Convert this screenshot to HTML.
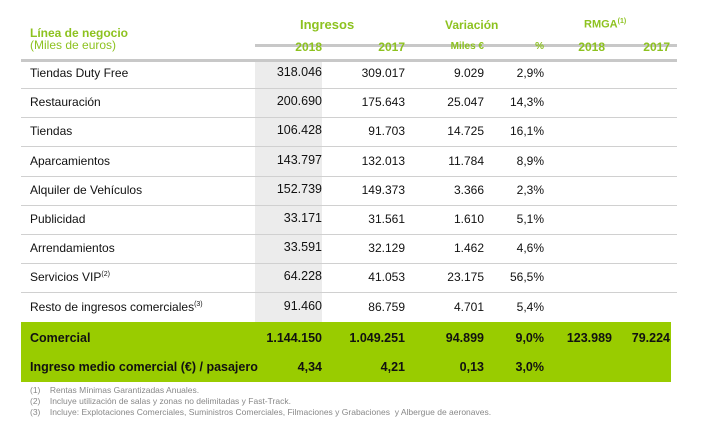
<!DOCTYPE html>
<html><head><meta charset="utf-8"><style>
body{margin:0;width:705px;height:424px;background:#fff;font-family:"Liberation Sans",sans-serif;position:relative;overflow:hidden}
.a{position:absolute;white-space:nowrap}
.g{color:#8dc21f;font-weight:bold}
.r{text-align:right}
.t{font-size:12px;color:#111}
.n{font-size:12.5px;color:#111}
.b{font-weight:bold;font-size:12.5px;color:#111}
.f{font-size:8.5px;color:#888}
</style></head><body>
<div class="a" style="left:255px;top:62px;width:67px;height:261px;background:#ececec"></div>
<div class="a" style="left:255px;top:44px;width:422px;height:3px;background:#c8c8c8"></div>
<div class="a" style="left:21px;top:59px;width:656px;height:3px;background:#c8c8c8"></div>
<div class="a g" style="left:30px;top:26px;font-size:12px">Línea de negocio</div>
<div class="a" style="left:30px;top:38px;font-size:12px;color:#8dc21f">(Miles de euros)</div>
<div class="a g" style="left:300px;top:17px;font-size:13px">Ingresos</div>
<div class="a g" style="left:445px;top:18px;font-size:12px">Variación</div>
<div class="a g" style="left:584px;top:18px;font-size:11px">RMGA<sup style="font-size:7px">(1)</sup></div>
<div class="a g r" style="left:262px;width:60px;top:40px;font-size:12px">2018</div>
<div class="a g r" style="left:345px;width:60px;top:40px;font-size:12px">2017</div>
<div class="a g r" style="left:424px;width:60px;top:41px;font-size:10px">Miles €</div>
<div class="a g r" style="left:484px;width:60px;top:41px;font-size:10px">%</div>
<div class="a g r" style="left:545px;width:60px;top:40px;font-size:12px">2018</div>
<div class="a g r" style="left:610px;width:60px;top:40px;font-size:12px">2017</div>
<div id="rows"></div>
<div class="a" style="left:21px;top:322px;width:650px;height:60px;background:#99cc00"></div>
<div class="a b" style="left:30px;top:331px">Comercial</div>
<div class="a b r" style="left:222px;width:100px;top:331px">1.144.150</div>
<div class="a b r" style="left:305px;width:100px;top:331px">1.049.251</div>
<div class="a b r" style="left:384px;width:100px;top:331px">94.899</div>
<div class="a b r" style="left:444px;width:100px;top:331px">9,0%</div>
<div class="a b r" style="left:512px;width:100px;top:331px">123.989</div>
<div class="a b r" style="left:570px;width:100px;top:331px">79.224</div>
<div class="a b" style="left:30px;top:360px">Ingreso medio comercial (€) / pasajero</div>
<div class="a b r" style="left:222px;width:100px;top:360px">4,34</div>
<div class="a b r" style="left:305px;width:100px;top:360px">4,21</div>
<div class="a b r" style="left:384px;width:100px;top:360px">0,13</div>
<div class="a b r" style="left:444px;width:100px;top:360px">3,0%</div>
<div class="a f" style="left:30px;top:385px">(1)&nbsp;&nbsp;&nbsp;&nbsp;Rentas Mínimas Garantizadas Anuales.</div>
<div class="a f" style="left:30px;top:396px">(2)&nbsp;&nbsp;&nbsp;&nbsp;Incluye utilización de salas y zonas no delimitadas y Fast-Track.</div>
<div class="a f" style="left:30px;top:407px">(3)&nbsp;&nbsp;&nbsp;&nbsp;Incluye: Explotaciones Comerciales, Suministros Comerciales, Filmaciones y Grabaciones&nbsp; y Albergue de aeronaves.</div>
<script>
const labels=["Tiendas Duty Free","Restauración","Tiendas","Aparcamientos","Alquiler de Vehículos","Publicidad","Arrendamientos","Servicios VIP<sup style='font-size:7px'>(2)</sup>","Resto de ingresos comerciales<sup style='font-size:7px'>(3)</sup>"];
const v2018=["318.046","200.690","106.428","143.797","152.739","33.171","33.591","64.228","91.460"];
const v2017=["309.017","175.643","91.703","132.013","149.373","31.561","32.129","41.053","86.759"];
const vMiles=["9.029","25.047","14.725","11.784","3.366","1.610","1.462","23.175","4.701"];
const vPct=["2,9%","14,3%","16,1%","8,9%","2,3%","5,1%","4,6%","56,5%","5,4%"];
const host=document.getElementById('rows');
function cell(txt,left,w,top,cls,name){const d=document.createElement('div');d.className='a '+cls;d.style.left=left+'px';d.style.width=w+'px';d.style.top=top+'px';d.innerHTML=txt;


host.appendChild(d);}
labels.forEach((l,i)=>{const y=66+i*29.2;
cell(l,30,220,y,'t','row-label');
cell(v2018[i],222,100,y-1,'n r','value-2018');
cell(v2017[i],305,100,y,'t r','value-2017');
cell(vMiles[i],384,100,y,'t r','value-miles');
cell(vPct[i],444,100,y,'t r','value-pct');
if(i<labels.length-1){const s=document.createElement('div');s.className='a';s.style.cssText='left:21px;width:656px;height:1px;background:#d0d0d0;top:'+(y+22)+'px';


host.appendChild(s);}
});
</script>
</body></html>
